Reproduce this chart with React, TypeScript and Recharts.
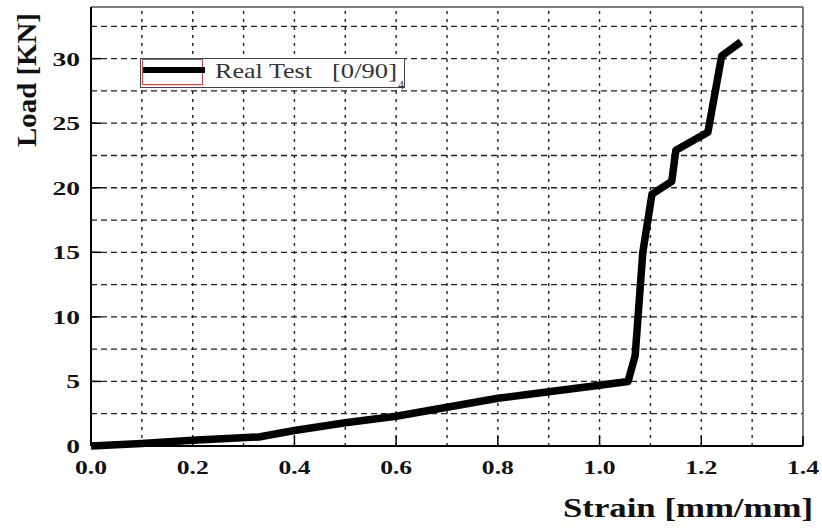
import { LineChart, Line, XAxis, YAxis, ReferenceLine, Legend, Label } from 'recharts'

// strain [mm/mm] vs load [KN]
const strain = [0, 0.1, 0.2, 0.33, 0.4, 0.5, 0.6, 0.7, 0.8, 0.9, 1.0, 1.056, 1.07, 1.085, 1.103, 1.142, 1.15, 1.213, 1.24, 1.278]
const load = [0, 0.2, 0.45, 0.7, 1.2, 1.8, 2.3, 3.0, 3.7, 4.2, 4.7, 5.0, 7.0, 15, 19.5, 20.5, 22.9, 24.3, 30.2, 31.3]

const strainTicks = [0, 0.2, 0.4, 0.6, 0.8, 1.0, 1.2, 1.4]
const loadTicks = [0, 5, 10, 15, 20, 25, 30]
const strainGrid = [0.1, 0.2, 0.3, 0.4, 0.5, 0.6, 0.7, 0.8, 0.9, 1.0, 1.1, 1.2, 1.3]
const loadGrid = [2.5, 5, 7.5, 10, 12.5, 15, 17.5, 20, 22.5, 25, 27.5, 30, 32.5]

const SERIF = '"Liberation Serif", "Times New Roman", serif'

const data = strain.map((s, i) => ({ strain: s, load: load[i] }))

function StrainTick({ x, y, payload }: any) {
  return (
    <g>
      <line x1={x} y1={y} x2={x} y2={y - 10} stroke="#000" strokeWidth={1.5} />
      <text
        transform={`translate(${x},${y + 28}) scale(1.35,1)`}
        textAnchor="middle"
        fontFamily={SERIF}
        fontWeight="bold"
        fontSize={19}
        fill="#111"
      >
        {Number(payload.value).toFixed(1)}
      </text>
    </g>
  )
}

function LoadTick({ x, y, payload }: any) {
  return (
    <g>
      <line x1={x} y1={y} x2={x + 10} y2={y} stroke="#000" strokeWidth={1.5} />
      <text
        transform={`translate(${x - 11},${y + 7}) scale(1.45,1)`}
        textAnchor="end"
        fontFamily={SERIF}
        fontWeight="bold"
        fontSize={19}
        fill="#111"
      >
        {payload.value}
      </text>
    </g>
  )
}

function LegendBox() {
  return (
    <svg width={270} height={40} style={{ overflow: 'visible', display: 'block' }}>
      <rect x={0.5} y={0.5} width={264} height={29} fill="#fff" stroke="#444" />
      <rect x={2.5} y={1.5} width={60} height={25} fill="none" stroke="#e04040" />
      <line x1={3} y1={12} x2={65} y2={12} stroke="#000" strokeWidth={6} />
      <text x={75} y={20} fontFamily={SERIF} fontSize={21} fill="#333" textLength={97} lengthAdjust="spacingAndGlyphs">
        Real Test
      </text>
      <text x={192} y={20} fontFamily={SERIF} fontSize={21} fill="#333" textLength={65} lengthAdjust="spacingAndGlyphs">
        [0/90]
      </text>
      <text x={258} y={31} fontFamily={SERIF} fontSize={12} fill="#333">
        4
      </text>
    </svg>
  )
}

export default function App() {
  return (
    <div style={{ position: 'absolute', left: 0, top: 0, width: 822, height: 530, background: '#fff' }}>
      <LineChart width={822} height={530} data={data} margin={{ top: 7, right: 19, bottom: 0, left: 0 }}>
        {loadGrid.map(v => (
          <ReferenceLine key={`h-${v}`} y={v} stroke="#222" strokeDasharray="6 4" strokeWidth={1.3} />
        ))}
        {strainGrid.map(v => (
          <ReferenceLine key={`v-${v}`} x={v} stroke="#222" strokeDasharray="3 5" strokeWidth={1.4} />
        ))}
        <ReferenceLine y={34} stroke="#555" strokeWidth={1.5} />
        <ReferenceLine x={1.4} stroke="#555" strokeWidth={1.5} />
        <XAxis
          type="number"
          dataKey="strain"
          domain={[0, 1.4]}
          ticks={strainTicks}
          interval={0}
          height={84}
          tickSize={0}
          tickMargin={0}
          tickLine={false}
          axisLine={{ stroke: '#000', strokeWidth: 2 }}
          tick={<StrainTick />}
        >
          <Label
            content={() => (
              <text
                x={688}
                y={517}
                textAnchor="middle"
                fontFamily={SERIF}
                fontWeight="bold"
                fontSize={27}
                fill="#111"
                textLength={250}
                lengthAdjust="spacingAndGlyphs"
              >
                Strain [mm/mm]
              </text>
            )}
          />
        </XAxis>
        <YAxis
          type="number"
          domain={[0, 34]}
          ticks={loadTicks}
          interval={0}
          width={91}
          tickSize={0}
          tickMargin={0}
          tickLine={false}
          axisLine={{ stroke: '#000', strokeWidth: 2 }}
          tick={<LoadTick />}
        >
          <Label
            content={() => (
              <text
                transform="translate(36,80) rotate(-90)"
                textAnchor="middle"
                fontFamily={SERIF}
                fontWeight="bold"
                fontSize={27}
                fill="#111"
                textLength={134}
                lengthAdjust="spacingAndGlyphs"
              >
                Load [KN]
              </text>
            )}
          />
        </YAxis>
        <Legend
          layout="vertical"
          align="center"
          verticalAlign="middle"
          wrapperStyle={{ left: 140, top: 58, width: 270, height: 40, overflow: 'visible' }}
          content={() => <LegendBox />}
        />
        <Line
          type="linear"
          dataKey="load"
          stroke="#000"
          strokeWidth={7.5}
          strokeLinejoin="round"
          dot={false}
          isAnimationActive={false}
        />
      </LineChart>
    </div>
  )
}
